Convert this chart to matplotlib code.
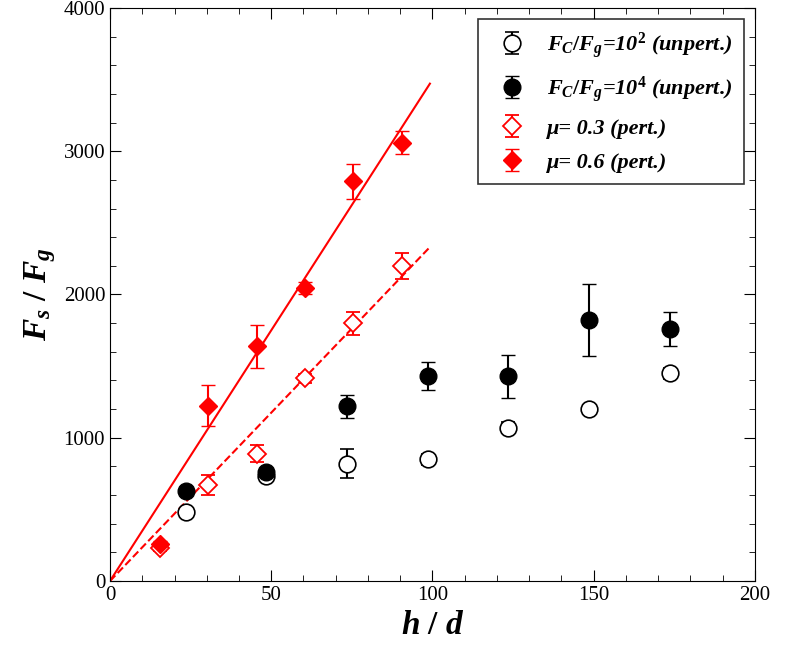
import matplotlib
matplotlib.use("Agg")
import matplotlib.pyplot as plt
import numpy as np

plt.rcParams['font.family'] = ['Liberation Serif', 'DejaVu Serif']
plt.rcParams['mathtext.fontset'] = 'custom'
plt.rcParams['mathtext.it'] = 'Liberation Serif:italic:bold'
plt.rcParams['mathtext.rm'] = 'Liberation Serif:bold'

x_c = [23.5, 48.5, 73.5, 98.5, 123.5, 148.5, 173.5]
y_open = [485, 735, 820, 850, 1070, 1200, 1450]
e_open = [20, 30, 100, 40, 40, 30, 40]
y_fill = [630, 760, 1220, 1430, 1430, 1820, 1760]
e_fill = [20, 30, 80, 100, 150, 250, 120]
x_d = [15.5, 30.5, 45.5, 60.5, 75.5, 90.5]
y_d3 = [230, 670, 890, 1415, 1800, 2200]
e_d3 = [20, 70, 60, 30, 80, 90]
y_d6 = [260, 1225, 1640, 2045, 2790, 3060]
e_d6 = [20, 140, 150, 40, 120, 80]
fit_x = [0, 99.2]
slope6 = 35.0
slope3 = 23.5

fig = plt.figure(figsize=(7.89, 6.56), dpi=100)
ax = fig.add_axes([110/789, 75/656, 645/789, 573/656])
fp = dict(fontweight='bold', fontstyle='italic', fontsize=16)

ax.plot(fit_x, [slope6*v for v in fit_x], '-', color='red', lw=1.5)
ax.plot(fit_x, [slope3*v for v in fit_x], '--', color='red', lw=1.5)
ax.errorbar(x_c, y_open, yerr=e_open, fmt='o', ms=12, mfc='white', mec='black', mew=1.2, ecolor='black', capsize=5, label=r'$F_C/F_g$=10$^2$ (unpert.)')
ax.errorbar(x_c, y_fill, yerr=e_fill, fmt='o', ms=12, mfc='black', mec='black', ecolor='black', capsize=5, label=r'$F_C/F_g$=10$^4$ (unpert.)')
ax.errorbar(x_d, y_d3, yerr=e_d3, fmt='D', ms=9, mfc='white', mec='red', mew=1.3, ecolor='red', capsize=5, label=r'μ= 0.3 (pert.)')
ax.errorbar(x_d, y_d6, yerr=e_d6, fmt='D', ms=9, mfc='red', mec='red', ecolor='red', capsize=5, label=r'μ= 0.6 (pert.)')

ax.set_xlim(0, 200)
ax.set_ylim(0, 4000)
ax.set_xticks([0, 50, 100, 150, 200])
ax.set_yticks([0, 1000, 2000, 3000, 4000])
ax.xaxis.set_minor_locator(matplotlib.ticker.MultipleLocator(10))
ax.yaxis.set_minor_locator(matplotlib.ticker.MultipleLocator(200))
ax.tick_params(which='both', direction='in', top=True, right=True, labelsize=15)
ax.tick_params(which='major', length=8)
ax.tick_params(which='minor', length=4)
ax.set_xlabel(r'$h$ / $d$', fontsize=24, fontweight='bold')
ax.set_ylabel(r'$F_s$ / $F_g$', fontsize=24, fontweight='bold')
leg = ax.legend(loc='upper right', bbox_to_anchor=(1.0, 1.0), frameon=True, fancybox=False,
                edgecolor='black', prop=dict(family='Liberation Serif', weight='bold', style='italic', size=16),
                handletextpad=0.6, borderpad=0.5, labelspacing=0.6)
leg.get_frame().set_linewidth(1.2)
fig.savefig('out.png', dpi=100)
